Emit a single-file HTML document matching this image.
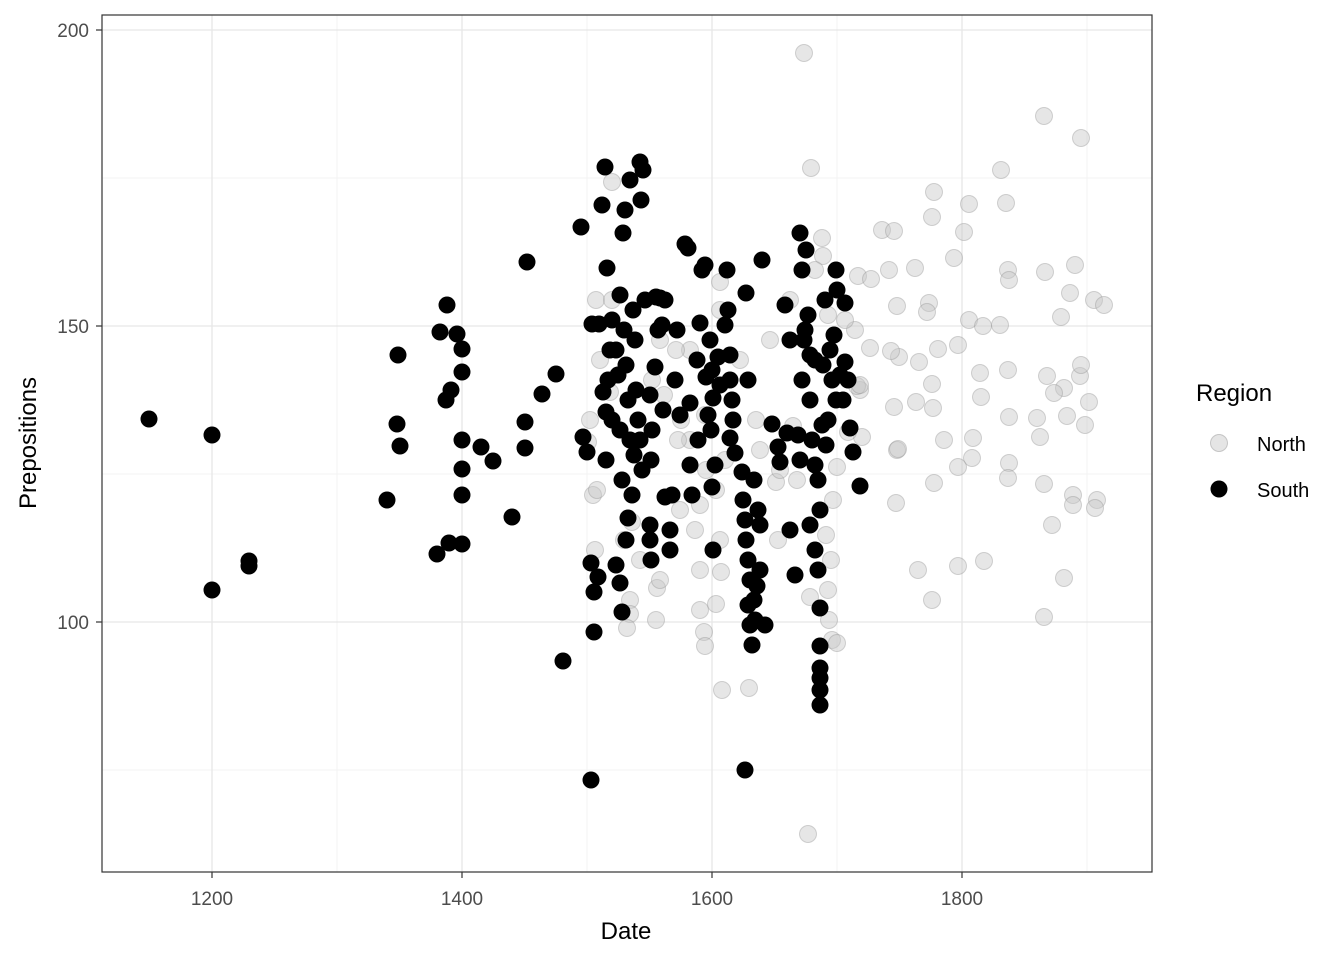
<!DOCTYPE html>
<html><head><meta charset="utf-8"><style>
html,body{margin:0;padding:0;background:#fff;}
svg{display:block;font-family:"Liberation Sans",Arial,sans-serif;}
</style></head><body>
<svg id="s" width="1344" height="960" viewBox="0 0 1344 960" xmlns="http://www.w3.org/2000/svg">
<rect width="1344" height="960" fill="#fff"/>
<g stroke="#f3f3f3" stroke-width="1">
<line x1="337" y1="15" x2="337" y2="872"/><line x1="587" y1="15" x2="587" y2="872"/><line x1="837" y1="15" x2="837" y2="872"/><line x1="1087" y1="15" x2="1087" y2="872"/>
<line x1="102" y1="178" x2="1152" y2="178"/><line x1="102" y1="474" x2="1152" y2="474"/><line x1="102" y1="770" x2="1152" y2="770"/>
</g>
<g stroke="#e6e6e6" stroke-width="1.3">
<line x1="212" y1="15" x2="212" y2="872"/><line x1="462" y1="15" x2="462" y2="872"/><line x1="712" y1="15" x2="712" y2="872"/><line x1="962" y1="15" x2="962" y2="872"/>
<line x1="102" y1="30" x2="1152" y2="30"/><line x1="102" y1="326" x2="1152" y2="326"/><line x1="102" y1="622" x2="1152" y2="622"/>
</g>
<g id="pts"></g>
<rect x="102" y="15" width="1050" height="857" fill="none" stroke="#333" stroke-width="1.2"/>
<g stroke="#333" stroke-width="1.2">
<line x1="212" y1="872" x2="212" y2="878"/><line x1="462" y1="872" x2="462" y2="878"/><line x1="712" y1="872" x2="712" y2="878"/><line x1="962" y1="872" x2="962" y2="878"/>
<line x1="96" y1="30" x2="102" y2="30"/><line x1="96" y1="326" x2="102" y2="326"/><line x1="96" y1="622" x2="102" y2="622"/>
</g>
<g fill="#4d4d4d" font-size="19">
<text x="212" y="905" text-anchor="middle">1200</text><text x="462" y="905" text-anchor="middle">1400</text><text x="712" y="905" text-anchor="middle">1600</text><text x="962" y="905" text-anchor="middle">1800</text>
<text x="89" y="37" text-anchor="end">200</text><text x="89" y="333" text-anchor="end">150</text><text x="89" y="629" text-anchor="end">100</text>
</g>
<text x="626" y="939" text-anchor="middle" font-size="24" fill="#000">Date</text>
<text transform="translate(36,443) rotate(-90)" text-anchor="middle" font-size="24" fill="#000">Prepositions</text>
<text x="1196" y="401" font-size="24" fill="#000">Region</text>
<circle cx="1219" cy="443" r="8.5" fill="#ccc" fill-opacity="0.5" stroke="#999" stroke-opacity="0.5"/>
<circle cx="1219" cy="489" r="8.5" fill="#000"/>
<text x="1257" y="451" font-size="20" fill="#000">North</text>
<text x="1257" y="497" font-size="20" fill="#000">South</text>
</svg>
<script>
var N=[[804,53],[811,168],[1044,116],[1081,138],[1001,170],[934,192],[932,217],[969,204],[1006,203],[964,232],[954,258],[882,230],[894,231],[915,268],[858,276],[871,279],[889,270],[897,306],[929,303],[927,312],[969,320],[983,326],[1000,325],[1008,270],[1009,280],[1045,272],[1075,265],[1070,293],[1094,300],[1104,305],[1061,317],[958,345],[938,349],[919,362],[899,357],[891,351],[870,348],[980,373],[1008,370],[1047,376],[1064,388],[1080,376],[1081,365],[1054,393],[1089,402],[1037,418],[1067,416],[1085,425],[1040,437],[1009,417],[981,397],[932,384],[916,402],[933,408],[894,407],[944,440],[973,438],[972,458],[958,467],[1009,463],[1008,478],[934,483],[896,503],[1044,484],[1073,495],[1073,505],[1097,500],[1095,508],[1052,525],[984,561],[958,566],[918,570],[932,600],[1064,578],[1044,617],[897,450],[898,449],[860,390],[862,437],[857,386],[848,432],[828,315],[822,238],[823,256],[810,597],[832,640],[837,643],[829,620],[828,590],[831,560],[826,535],[808,834],[749,688],[722,690],[704,632],[705,646],[700,610],[716,604],[721,572],[720,540],[700,570],[716,490],[706,470],[700,505],[695,530],[690,440],[705,415],[720,310],[720,282],[690,350],[676,350],[660,340],[652,380],[664,395],[681,420],[678,440],[656,620],[657,588],[630,600],[624,540],[632,522],[630,614],[627,628],[595,550],[593,495],[597,490],[590,420],[588,442],[596,300],[612,182],[610,392],[680,510],[776,482],[778,540],[780,470],[756,420],[760,450],[793,426],[797,480],[833,500],[837,467],[860,385],[855,330],[845,320],[815,270],[790,300],[770,340],[740,360],[725,460],[660,580],[640,560],[612,300],[600,360]];
var S=[[149,419],[212,435],[212,590],[249,561],[249,566],[387,500],[397,424],[400,446],[398,355],[437,554],[440,332],[447,305],[446,400],[451,390],[449,543],[457,334],[462,349],[462,372],[462,440],[462,469],[462,495],[462,544],[481,447],[493,461],[512,517],[525,422],[525,448],[527,262],[542,394],[556,374],[563,661],[581,227],[583,437],[587,452],[591,780],[591,563],[592,324],[594,592],[598,577],[605,167],[602,205],[607,268],[599,324],[603,392],[606,412],[610,350],[612,320],[608,380],[606,460],[612,420],[616,350],[618,375],[620,430],[622,480],[625,210],[623,233],[620,295],[624,330],[626,365],[628,400],[630,440],[632,495],[634,455],[616,565],[620,583],[622,612],[626,540],[628,518],[630,180],[640,162],[643,170],[641,200],[633,310],[635,340],[636,390],[638,420],[640,440],[642,470],[645,300],[650,395],[652,430],[651,460],[650,525],[650,540],[651,560],[655,367],[656,297],[658,330],[660,298],[662,325],[665,300],[663,410],[665,497],[670,530],[670,550],[672,495],[675,380],[677,330],[680,415],[685,244],[688,248],[690,403],[692,495],[690,465],[698,440],[697,360],[700,323],[702,270],[705,265],[706,377],[708,415],[710,340],[712,370],[713,398],[711,430],[715,465],[712,487],[713,550],[718,357],[720,385],[725,325],[727,270],[728,310],[730,438],[732,400],[735,453],[733,420],[730,380],[730,355],[594,632],[742,472],[746,293],[748,380],[743,500],[745,520],[746,540],[748,560],[750,580],[748,605],[750,625],[752,645],[754,600],[755,620],[757,586],[760,570],[762,260],[765,625],[754,480],[760,525],[758,510],[745,770],[772,424],[778,447],[780,462],[785,305],[790,340],[787,433],[790,530],[795,575],[798,435],[800,460],[802,380],[804,340],[805,330],[800,233],[802,270],[806,250],[808,315],[810,355],[810,400],[812,440],[815,465],[818,480],[820,510],[810,525],[815,550],[818,570],[820,608],[820,646],[820,668],[820,678],[820,690],[820,705],[815,360],[822,425],[825,300],[828,420],[830,350],[832,380],[834,335],[836,270],[837,290],[843,400],[845,303],[845,362],[848,380],[850,428],[853,452],[860,486],[836,400],[840,375],[823,365],[826,445]];
var g=document.getElementById('pts'),h='';
N.forEach(function(p){h+='<circle cx="'+p[0]+'" cy="'+p[1]+'" r="8.5" fill="#c8c8c8" fill-opacity="0.45" stroke="#888" stroke-opacity="0.35"/>';});
S.forEach(function(p){h+='<circle cx="'+p[0]+'" cy="'+p[1]+'" r="8.5" fill="#000"/>';});
g.innerHTML=h;
</script>
</body></html>
